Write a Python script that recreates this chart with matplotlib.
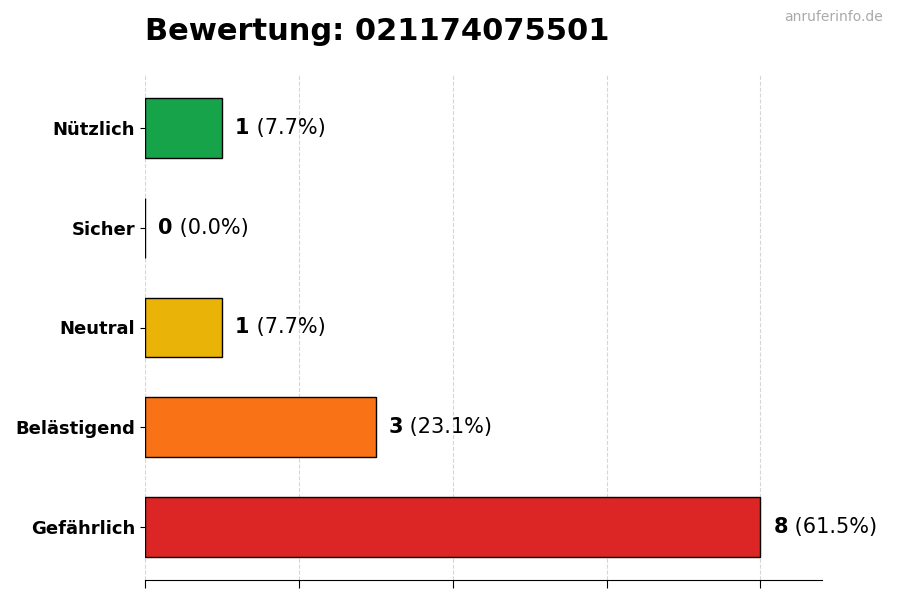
import matplotlib
matplotlib.use("Agg")
import matplotlib.pyplot as plt

categories = ["Nützlich", "Sicher", "Neutral", "Belästigend", "Gefährlich"]
counts = [1, 0, 1, 3, 8]
colors = ["#16a34a", "#6b7280", "#eab308", "#f97316", "#dc2626"]
title = "Bewertung: 021174075501"
watermark = "anruferinfo.de"

total = sum(counts)
fig = plt.figure(figsize=(9, 6), dpi=100)
ax = fig.add_axes([145/900, 20/600, 677/900, 505/600])

ypos = list(range(len(categories)))[::-1]
ax.barh(ypos, counts, height=0.6, color=colors, edgecolor="black", linewidth=1, zorder=2)
ax.set_xlim(0, max(counts) * 1.1)
ax.set_yticks(ypos)
ax.set_yticklabels(categories, fontsize=13, fontweight="bold")
ax.set_xticks([0, 2, 4, 6, 8])
ax.set_xticklabels([])
ax.tick_params(axis="x", length=6)
ax.grid(axis="x", linestyle="--", color="#cccccc", alpha=0.8, zorder=0)
ax.set_axisbelow(True)
for s in ["top", "right", "left"]:
    ax.spines[s].set_visible(False)

for y, c in zip(ypos, counts):
    pct = 100 * c / total
    t = ax.text(c + 0.17, y, f"{c}", fontsize=15, fontweight="bold", va="center", ha="left")
    ax.annotate(f" ({pct:.1f}%)", xy=(1, 0.5), xycoords=t, va="center", ha="left", fontsize=15)

fig.text(145/900, 1 - 31/600, title, fontsize=22, fontweight="bold", va="center", ha="left")
fig.text(883/900, 1 - 17/600, watermark, fontsize=10, color="#aaaaaa", va="center", ha="right")

fig.savefig("out.png", dpi=100)
